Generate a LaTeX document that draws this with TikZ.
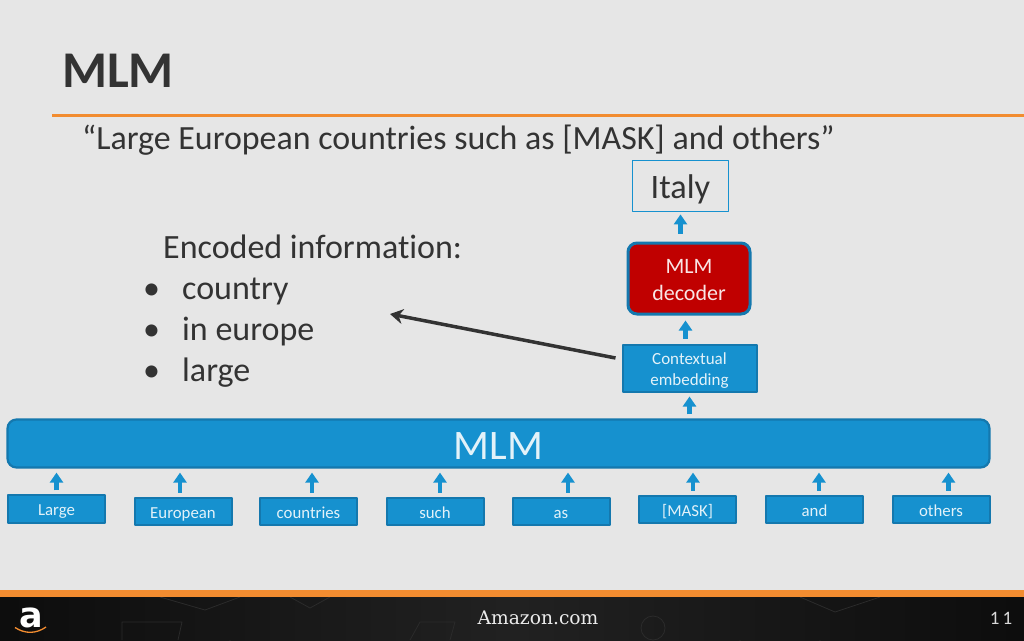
\documentclass[tikz,border=0pt]{standalone}
\usepackage{fontspec}
\setmainfont[RawFeature=-liga]{Carlito}
\newfontfamily\slabfont{DejaVu Serif}
\newfontfamily\logofont{DejaVu Sans}
\usetikzlibrary{arrows.meta}
\definecolor{slidebg}{HTML}{E6E6E6}
\definecolor{amzorange}{HTML}{F28C30}
\definecolor{boxblue}{HTML}{1691CF}
\definecolor{boxedge}{HTML}{1478AE}
\definecolor{darktext}{HTML}{333333}
\definecolor{decred}{HTML}{C00000}
\definecolor{iconline}{HTML}{2B2B2B}
\tikzset{
	blockarrow/.style={draw=boxblue,line width=4.5pt,-{Triangle[width=13pt,length=10pt]}},
	wordbox/.style={draw=boxedge,line width=2pt,fill=boxblue,text=white!88!boxblue,font=\fontsize{16.8}{18}\selectfont,minimum width=97pt,minimum height=27.5pt,inner sep=0pt,text height=15.5pt,text depth=2.5pt},
	bodytext/.style={anchor=base west,inner sep=0pt,text=darktext,font=\fontsize{34}{36}\selectfont}
}
\begin{document}
\begin{tikzpicture}[x=1pt,y=-1pt,>=stealth,line join=round]
	\useasboundingbox (0,0) rectangle (1024,640);
	\fill[slidebg] (0,0) rectangle (1024,640);
	% footer
	\shade[left color=black!95,right color=black!95,middle color=black!87] (0,596) rectangle (1024,640);
	\fill[amzorange] (0,590) rectangle (1024,596.5);
	\begin{scope}[line width=.8pt]
		\clip (0,597) rectangle (1024,640);
		\draw[iconline] (122,640)--(122,622)--(182,622)--(178,640);
		\draw[iconline] (230,640) arc (180:40:16) arc (150:30:14);
		\draw[iconline] (160,597)--(205,610)--(240,597);
		\draw[iconline] (740,640) arc (180:40:17) arc (150:30:16);
		\draw[iconline] (653,628) circle (12);
		\draw[iconline] (820,640) arc (180:50:32);
		\draw[iconline] (800,597)--(835,612)--(880,597);
		\draw[iconline] (290,597)--(310,608)--(330,597);
		\draw[iconline] (410,640)--(420,622)--(455,622)--(450,640);
	\end{scope}
	\node[inner sep=0pt,anchor=base,text=white,font=\logofont\bfseries\fontsize{35}{35}\selectfont] (amzlogo) at (31,627) {a};
	\draw[amzorange,line width=1.3pt] (15,627.5) .. controls (25,634) and (36,634) .. (46,627);
	\node[inner sep=0pt,anchor=base,text=white!92!black,font=\slabfont\fontsize{18.7}{20}\selectfont] (amzname) at (538,624) {Amazon.com};
	\node[inner sep=0pt,anchor=base,text=white!85!black,font=\fontsize{19}{20}\selectfont] (pagenum) at (1001,624) {1\,1};
	% title
	\node[inner sep=0pt,anchor=base west,text=darktext,font=\bfseries\fontsize{51.5}{54}\selectfont] (title) at (62,87) {MLM};
	\draw[amzorange,line width=3pt] (52,115.5)--(1024,115.5);
	\node[bodytext,font=\fontsize{33.9}{36}\selectfont] (sentence) at (82,149) {“Large European countries such as [MASK] and others”};
	% encoded information
	\node[bodytext] (encoded) at (163,258) {Encoded information:};
	\foreach \name/\y/\word in {country/299/country,ineurope/340/in europe,large/381/large}{
		\node[bodytext] (b\name) at (143,\y) {•};
		\node[bodytext] (\name) at (182,\y) {\word};
	}
	% main bar and upper boxes
	\node[draw=boxedge,line width=2.2pt,fill=boxblue,rounded corners=9pt,minimum width=982pt,minimum height=48pt,inner sep=0pt,text=white!88!boxblue,font=\fontsize{42}{44}\selectfont,text height=31pt,text depth=0pt] (mlmbar) at (498.5,443.5) {MLM};
	\node[wordbox,minimum width=134pt,minimum height=47pt,align=center,font=\fontsize{17}{21}\selectfont,text height=,text depth=] (embedding) at (689.5,368) {\rule{0pt}{16pt}Contextual\\embedding};
	\node[draw=boxedge,line width=3pt,fill=decred,rounded corners=9pt,minimum width=122pt,minimum height=71pt,inner sep=0pt,align=center,text=white!90!decred,font=\fontsize{22}{27}\selectfont] (decoder) at (689,278.5) {\rule{0pt}{17pt}MLM\\decoder};
	\node[draw=boxblue,line width=1.8pt,minimum width=96pt,minimum height=51pt,inner sep=0pt,text=darktext,font=\fontsize{34.3}{36}\selectfont,text height=30pt,text depth=6pt] (italy) at (680.5,186) {Italy};
	% word boxes with their arrows
	\foreach \name/\x/\y/\dx/\word in {w1/56.5/509/0/Large,w2/183/511.5/-3/European,w3/308.5/511.5/3.5/countries,w4/435/511.5/5/such,w5/561/511.5/7/as,w6/687.5/509.5/5.5/{[MASK]},w7/814.5/509.5/4.5/and,w8/941/509.5/7.5/others}{
		\node[wordbox] (\name) at (\x,\y) {\word};
		\draw[blockarrow,shorten <=4pt,shorten >=4pt] ([xshift=\dx pt]\name.north) -- ([xshift=\dx pt]\name.north |- mlmbar.south);
	}
	\draw[blockarrow,shorten <=4pt,shorten >=4pt] (embedding.south |- mlmbar.north) -- (embedding.south);
	\draw[blockarrow,shorten <=5pt,shorten >=5pt] ([xshift=-4pt]embedding.north) -- ([xshift=-4pt]embedding.north |- decoder.south);
	\draw[blockarrow,shorten <=8pt,shorten >=2pt] (italy.south |- decoder.north) -- (italy.south);
	% arrow to the encoded information
	\coordinate (infotip) at (390,314);
	\draw[darktext,line width=3.5pt,-{Stealth[length=13pt,width=15pt]}] ([yshift=10pt,xshift=-6pt]embedding.west) -- (infotip);
\end{tikzpicture}
\end{document}
